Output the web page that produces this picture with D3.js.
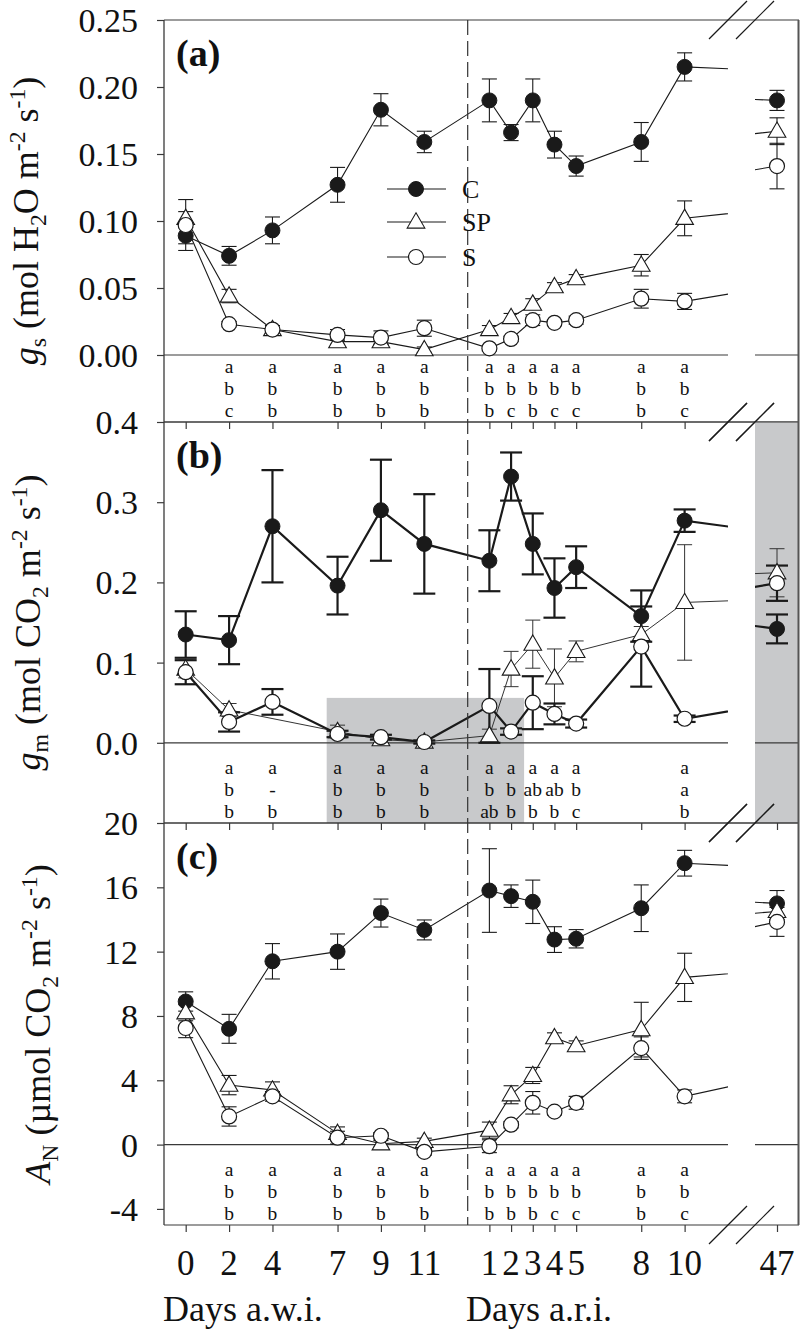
<!DOCTYPE html>
<html><head><meta charset="utf-8">
<script src="https://cdn.jsdelivr.net/npm/d3@7"></script>
<style>
body{margin:0;background:#fff}
svg{display:block}
text{font-family:"Liberation Serif","Times New Roman",serif;fill:#111}
</style>
</head><body>
<svg id="chart" width="800" height="1332"></svg>
<script>
// ---------- data ----------
const xLabels = ["0","2","4","7","9","11","1","2","3","4","5","8","10","47"];
// position on a continuous day axis: a.w.i. day d -> d ; a.r.i. day d -> 13 + d
const xIndex = [0,2,4,7,9,11,14,15,16,17,18,21,23,60];
const reIrrigation = 13;

const seriesNames = ["C","SP","S"];

// (a) gs
const gsC     = [0.089,0.074,0.093,0.127,0.183,0.159,0.190,0.166,0.190,0.157,0.141,0.159,0.215,0.190];
const gsCErr  = [0.006,0.007,0.010,0.013,0.012,0.008,0.016,0.006,0.016,0.010,0.0075,0.0145,0.0105,0.0075];
const gsSP    = [0.102,0.044,0.019,0.010,0.010,0.004,0.019,0.028,0.038,0.051,0.057,0.067,0.102,0.167];
const gsSPErr = [0.005,0.005,0.003,0.002,0.002,0.002,0.003,0.003,0.004,0.003,0.003,0.008,0.013,0.010];
const gsS     = [0.097,0.023,0.019,0.015,0.013,0.020,0.005,0.012,0.026,0.024,0.026,0.042,0.040,0.141];
const gsSErr  = [0.019,0.002,0.003,0.004,0.005,0.006,0.002,0.002,0.004,0.002,0.003,0.007,0.006,0.017];

// (b) gm
const gmC     = [0.135,0.128,0.270,0.196,0.290,0.248,0.227,0.332,0.248,0.193,0.219,0.158,0.277,0.142];
const gmCErr  = [0.029,0.030,0.070,0.036,0.063,0.062,0.038,0.030,0.038,0.037,0.026,0.032,0.014,0.018];
const gmSP    = [0.092,0.041,null,0.014,0.004,0.001,0.009,0.092,0.123,0.081,0.114,0.135,0.175,0.212];
const gmSPErr = [0.011,0.008,null,0.008,0.004,0.002,0.008,0.022,0.030,0.036,0.013,0.010,0.072,0.030];
const gmS     = [0.088,0.026,0.051,0.011,0.007,0.001,0.046,0.014,0.050,0.036,0.024,0.120,0.030,0.199];
const gmSErr  = [0.015,0.012,0.016,0.004,0.003,0.002,0.046,0.004,0.033,0.013,0.005,0.050,0.004,0.022];

// (c) AN
const anC     = [8.9,7.2,11.4,12.0,14.4,13.35,15.8,15.45,15.1,12.75,12.8,14.7,17.5,15.0];
const anCErr  = [0.6,0.9,1.1,1.1,0.87,0.62,2.6,0.7,1.35,0.8,0.57,1.45,0.8,0.8];
const anSP    = [8.2,3.7,3.4,0.7,0.05,0.2,0.9,3.1,4.3,6.65,6.15,7.15,10.4,14.5];
const anSPErr = [0.5,0.6,0.5,0.4,0.2,0.2,0.5,0.56,0.5,0.3,0.3,1.7,1.5,0.5];
const anS     = [7.25,1.75,3.0,0.43,0.55,-0.45,-0.1,1.24,2.6,2.05,2.6,6.0,3.0,13.85];
const anSErr  = [0.6,0.6,0.3,0.4,0.2,0.2,0.4,0.2,0.7,0.2,0.4,0.7,0.4,0.9];

// significance letters (rows C / SP / S) per sampling day
const lettersA = [null,["a","b","c"],["a","b","b"],["a","b","b"],["a","b","b"],["a","b","b"],["a","b","b"],["a","b","c"],["a","b","b"],["a","b","c"],["a","b","c"],["a","b","b"],["a","b","c"],null];
const lettersB = [null,["a","b","b"],["a","-","b"],["a","b","b"],["a","b","b"],["a","b","b"],["a","b","ab"],["a","b","b"],["a","ab","b"],["a","ab","b"],["a","b","c"],null,["a","a","b"],null];
const lettersC = [null,["a","b","b"],["a","b","b"],["a","b","b"],["a","b","b"],["a","b","b"],["a","b","b"],["a","b","b"],["a","b","b"],["a","b","c"],["a","b","c"],["a","b","b"],["a","b","c"],null];

const ticksA = [0,0.05,0.10,0.15,0.20,0.25];
const ticksB = [0,0.1,0.2,0.3,0.4];
const ticksC = [-4,0,4,8,12,16,20];

// shaded period in (b): [from, to] on day axis, and top value
const shadeB = {x0:6.5, x1:15.6, top:0.056};

// ---------- layout ----------
const svg = d3.select("#chart");
const L = 164, R = 799, breakL = 728, breakR = 755;
const xMain  = d3.scaleLinear().domain([-1, 25]).range([L, breakL]);
const xRight = d3.scaleLinear().domain([59, 61]).range([breakR, R]);
const hyph = f => v => f(v).replace("\u2212","-");

const panels = [
  {lab:"(a)", top:20,  bottom:422, domain:[-0.05,0.25], ticks:ticksA, fmt:hyph(d3.format(".2f")),
   data:[[gsC,gsCErr],[gsSP,gsSPErr],[gsS,gsSErr]], letters:lettersA, lw:[1.1,1.1,1.1],
   title:[{t:"g",it:1},{t:"s",sub:1},{t:" (mol H"},{t:"2",sub:1},{t:"O m"},{t:"-2",sup:1},{t:" s"},{t:"-1",sup:1},{t:")"}], tx:38},
  {lab:"(b)", top:422, bottom:823, domain:[-0.1,0.4], ticks:ticksB, fmt:hyph(d3.format(".1f")),
   data:[[gmC,gmCErr],[gmSP,gmSPErr],[gmS,gmSErr]], letters:lettersB, lw:[2.2,1.0,2.2],
   title:[{t:"g",it:1},{t:"m",sub:1},{t:" (mol CO"},{t:"2",sub:1},{t:" m"},{t:"-2",sup:1},{t:" s"},{t:"-1",sup:1},{t:")"}], tx:40},
  {lab:"(c)", top:823, bottom:1225, domain:[-5,20], ticks:ticksC, fmt:hyph(d3.format("d")),
   data:[[anC,anCErr],[anSP,anSPErr],[anS,anSErr]], letters:lettersC, lw:[1.1,1.1,1.1],
   title:[{t:"A",it:1},{t:"N",sub:1},{t:" (\u00b5mol CO"},{t:"2",sub:1},{t:" m"},{t:"-2",sup:1},{t:" s"},{t:"-1",sup:1},{t:")"}], tx:50}
];

const ink = "#1a1a1a", frame = "#3a3a3a", shade = "#c8c9cb";

const defs = svg.append("defs");
defs.append("clipPath").attr("id","clipMain").append("rect").attr("x",L).attr("y",0).attr("width",breakL-L).attr("height",1332);
defs.append("clipPath").attr("id","clipRight").append("rect").attr("x",breakR).attr("y",0).attr("width",R-breakR).attr("height",1332);

function marker(g, type, x, y, r) {
  if (type === 0) g.append("circle").attr("cx",x).attr("cy",y).attr("r",r).attr("fill",ink).attr("stroke",ink).attr("stroke-width",1);
  else if (type === 2) g.append("circle").attr("cx",x).attr("cy",y).attr("r",r).attr("fill","#fff").attr("stroke",ink).attr("stroke-width",1.2);
  else g.append("path").attr("d", d3.symbol(d3.symbolTriangle, 135)()).attr("transform",`translate(${x},${y+1})`)
        .attr("fill","#fff").attr("stroke",ink).attr("stroke-width",1.1);
}

function drawTitle(parts, x, y, size) {
  const t = svg.append("text").attr("transform",`translate(${x},${y}) rotate(-90)`)
    .attr("text-anchor","middle").style("font-size",size+"px");
  let shift = 0;
  parts.forEach(p => {
    const target = p.sub ? size*0.22 : p.sup ? -size*0.36 : 0;
    const ts = t.append("tspan").text(p.t).attr("dy", target - shift);
    shift = target;
    if (p.sub || p.sup) ts.style("font-size",(size*0.66)+"px");
    if (p.it) ts.style("font-style","italic");
  });
}

panels.forEach((P, pi) => {
  const y = d3.scaleLinear().domain(P.domain).range([P.bottom, P.top]);
  const g = svg.append("g");

  // shading
  if (pi === 1) {
    g.append("rect").attr("x",xMain(shadeB.x0)).attr("y",y(shadeB.top))
      .attr("width",xMain(shadeB.x1)-xMain(shadeB.x0)).attr("height",y(P.domain[0])-y(shadeB.top)).attr("fill",shade);
    g.append("rect").attr("x",breakR).attr("y",P.top).attr("width",R-breakR).attr("height",P.bottom-P.top).attr("fill",shade);
  }

  // zero line (broken)
  g.append("line").attr("x1",L).attr("x2",breakL).attr("y1",y(0)).attr("y2",y(0)).attr("stroke",frame).attr("stroke-width",1.2);
  g.append("line").attr("x1",breakR).attr("x2",R).attr("y1",y(0)).attr("y2",y(0)).attr("stroke",frame).attr("stroke-width",1.2);

  // frame lines
  g.append("line").attr("x1",L).attr("x2",R).attr("y1",P.top).attr("y2",P.top).attr("stroke",frame).attr("stroke-width",1.2);
  g.append("line").attr("x1",L).attr("x2",R).attr("y1",P.bottom).attr("y2",P.bottom).attr("stroke",frame).attr("stroke-width",1.2);

  // y axis
  const yAxis = d3.axisLeft(y).tickValues(P.ticks).tickFormat(P.fmt).tickSize(7).tickPadding(19);
  const ya = svg.append("g").attr("transform",`translate(${L},0)`).call(yAxis);
  ya.select(".domain").remove();
  ya.selectAll("line").attr("stroke",frame).attr("stroke-width",1.2);
  ya.selectAll("text").style("font-size","34px").attr("fill","#111").attr("dy","0.34em")
    .style("font-family","'Liberation Serif','Times New Roman',serif");

  // x ticks at bottom of each panel
  const xa = d3.axisBottom(xMain).tickValues(xIndex.slice(0,13)).tickSize(7).tickFormat("");
  const xg = svg.append("g").attr("transform",`translate(0,${P.bottom})`).call(xa);
  xg.select(".domain").remove();
  xg.selectAll("line").attr("stroke",frame).attr("stroke-width",1.2);
  const xr = svg.append("g").attr("transform",`translate(0,${P.bottom})`).call(d3.axisBottom(xRight).tickValues([60]).tickSize(7).tickFormat(""));
  xr.select(".domain").remove();
  xr.selectAll("line").attr("stroke",frame).attr("stroke-width",1.2);

  // series
  const pts = (vals) => xIndex.map((xi,i)=>({x:xi,v:vals[i]})).filter(d=>d.v!==null);
  [["clipMain",xMain],["clipRight",xRight]].forEach(([clip, xs]) => {
    const sg = svg.append("g").attr("clip-path",`url(#${clip})`);
    const line = d3.line().x(d=>xs(d.x)).y(d=>y(d.v));
    P.data.forEach(([vals],si) => {
      sg.append("path").datum(pts(vals)).attr("d",line).attr("fill","none")
        .attr("stroke", si===1 && pi===1 ? "#333" : ink).attr("stroke-width",P.lw[si]);
    });
    P.data.forEach(([vals,errs],si) => {
      const lw = P.lw[si], cap = lw > 1.5 ? 11 : 7.5;
      xIndex.forEach((xi,i) => {
        if (vals[i]===null || !errs[i]) return;
        const cx = xs(xi), y1 = y(vals[i]-errs[i]), y2 = y(vals[i]+errs[i]);
        const eg = sg.append("g").attr("stroke", si===1 && pi===1 ? "#333" : ink).attr("stroke-width",lw);
        eg.append("line").attr("x1",cx).attr("x2",cx).attr("y1",y1).attr("y2",y2);
        eg.append("line").attr("x1",cx-cap).attr("x2",cx+cap).attr("y1",y1).attr("y2",y1);
        eg.append("line").attr("x1",cx-cap).attr("x2",cx+cap).attr("y1",y2).attr("y2",y2);
      });
    });
    P.data.forEach(([vals],si) => {
      xIndex.forEach((xi,i) => { if (vals[i]!==null) marker(sg, si, xs(xi), y(vals[i]), 7.5); });
    });
  });

  // letters
  P.letters.forEach((col,i) => {
    if (!col) return;
    col.forEach((s,r) => {
      svg.append("text").attr("x",xMain(xIndex[i])).attr("y",P.bottom - 49 + r*22)
        .attr("text-anchor","middle").style("font-size","19.5px").text(s);
    });
  });

  // panel label
  svg.append("text").attr("x",176).attr("y",P.top+46).style("font-size","38px").style("font-weight","bold").text(P.lab);

  // axis title
  drawTitle(P.title, P.tx, (P.top+P.bottom)/2, 36);

  // break marks
  [breakL, breakR].forEach(bx => [P.top, P.bottom].forEach(by => {
    svg.append("line").attr("x1",bx-19).attr("y1",by+19).attr("x2",bx+19).attr("y2",by-19).attr("stroke",ink).attr("stroke-width",1.2);
  }));
});

// left axis line, right frame
svg.append("line").attr("x1",L).attr("x2",L).attr("y1",20).attr("y2",1225).attr("stroke",frame).attr("stroke-width",1.3);
svg.append("line").attr("x1",R-0.5).attr("x2",R-0.5).attr("y1",20).attr("y2",1225).attr("stroke","#555").attr("stroke-width",2);

// re-irrigation dashed line
svg.append("line").attr("x1",xMain(reIrrigation)).attr("x2",xMain(reIrrigation)).attr("y1",20).attr("y2",1225)
  .attr("stroke","#333").attr("stroke-width",1.2).attr("stroke-dasharray","15,6");

// legend
const legY = [189,222,257];
seriesNames.forEach((n,i) => {
  svg.append("line").attr("x1",387).attr("x2",446).attr("y1",legY[i]).attr("y2",legY[i]).attr("stroke",ink).attr("stroke-width",1.1);
  marker(svg, i, 416, legY[i], 7.5);
  svg.append("text").attr("x",462).attr("y",legY[i]).attr("dy","0.34em").style("font-size","26px").text(n);
});

// x tick labels
xLabels.forEach((t,i) => {
  const xs = i < 13 ? xMain : xRight;
  svg.append("text").attr("x",xs(xIndex[i])).attr("y",1275).attr("text-anchor","middle").style("font-size","35px").text(t);
});
svg.append("text").attr("x",163).attr("y",1321).style("font-size","36px").text("Days a.w.i.");
svg.append("text").attr("x",466).attr("y",1321).style("font-size","36px").text("Days a.r.i.");
</script>
</body></html>
